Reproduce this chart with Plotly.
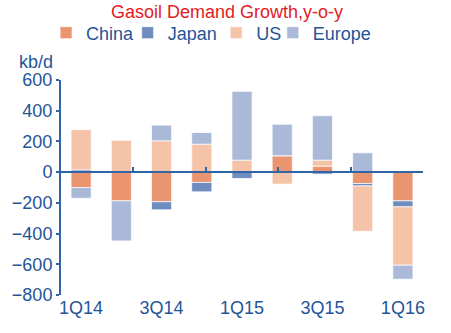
import plotly.graph_objects as go

quarters = ["1Q14", "2Q14", "3Q14", "4Q14", "1Q15", "2Q15", "3Q15", "4Q15", "1Q16"]
tick_labels = ["1Q14", "3Q14", "1Q15", "3Q15", "1Q16"]
china = [-100, -187, -193, -67, 0, 107, 39, -74, -187]
japan = [15, 0, -52, -61, -41, 0, -13, -16, -39]
us = [262, 207, 204, 182, 78, -78, 39, -295, -380]
europe = [-70, -261, 102, 76, 448, 205, 289, 126, -91]
y_ticks = [-800, -600, -400, -200, 0, 200, 400, 600]
zero_axis_ticks = [1.3, 3.1, 4.9, 6.7, 8.5]

# name, values, colour, legend id, legend left edge (px)
series = [
    ("China", china, "#EA9470", "legend", 44),
    ("Japan", japan, "#6F8CC0", "legend2", 126),
    ("US", us, "#F5C3A8", "legend3", 215),
    ("Europe", europe, "#ABB9D8", "legend4", 272),
]

xpos = list(range(len(quarters)))
blue = "#1F5597"
axis_blue = "#2F65A7"
font_family = "Liberation Sans, Arial, sans-serif"
L, R, T, B, W, H = 59, 28, 80, 38, 451, 333
PW = W - L - R
PH = H - T - B

fig = go.Figure()
legend_layouts = {}
for name, vals, col, lg, left in series:
    fig.add_trace(go.Bar(
        x=xpos, y=vals, name=name, legend=lg,
        marker=dict(color=col, line=dict(color="rgba(255,255,255,0.7)", width=1)),
        hovertext=quarters,
    ))
    legend_layouts[lg] = dict(orientation="h", x=(left - L) / PW, xanchor="left",
                              y=1 - 33 / H, yanchor="middle", yref="container",
                              font=dict(size=18, color=blue), itemwidth=30,
                              bgcolor="rgba(0,0,0,0)")

# invisible helper trace so the zero-line axis is drawn
fig.add_trace(go.Scatter(x=[0], y=[0], xaxis="x2", mode="markers",
                         marker=dict(opacity=0), showlegend=False, hoverinfo="skip"))

tick_idx = [quarters.index(t) for t in tick_labels]

fig.update_layout(
    width=W, height=H,
    margin=dict(l=L, r=R, t=T, b=B),
    barmode="relative",
    bargap=0.5,
    plot_bgcolor="white", paper_bgcolor="white",
    font=dict(family=font_family, size=18, color=blue),
    showlegend=True,
    xaxis=dict(range=[-0.5, 8.5], tickvals=tick_idx, ticktext=tick_labels,
               showline=False, showgrid=False, zeroline=False, ticks="",
               tickfont=dict(size=18, color=blue)),
    xaxis2=dict(range=[-0.5, 8.5], overlaying="x", anchor="free",
                position=800 / 1400, side="bottom", showline=True,
                linecolor=axis_blue, linewidth=2, ticks="inside", ticklen=4,
                tickwidth=2, tickcolor=axis_blue, tickvals=zero_axis_ticks,
                showticklabels=False, showgrid=False, zeroline=False,
                layer="above traces"),
    yaxis=dict(range=[-800, 600], tickvals=y_ticks, showline=True,
               linecolor=axis_blue, linewidth=2, ticks="outside", ticklen=3,
               tickwidth=2, tickcolor=axis_blue, showgrid=False, zeroline=False,
               tickfont=dict(size=18, color=blue)),
    annotations=[
        dict(text="Gasoil Demand Growth,y-o-y", xref="paper", yref="paper",
             x=(226 - L) / PW, y=1 + (T - 12.5) / PH, xanchor="center",
             yanchor="middle", showarrow=False,
             font=dict(size=18, color="#E31B23")),
        dict(text="kb/d", xref="paper", yref="paper", x=-(L - 53) / PW,
             y=1 + (T - 62) / PH, xanchor="right", yanchor="middle",
             showarrow=False, font=dict(size=18, color=blue)),
    ],
)
fig.update_layout(**legend_layouts)

fig.write_html("out.html")
